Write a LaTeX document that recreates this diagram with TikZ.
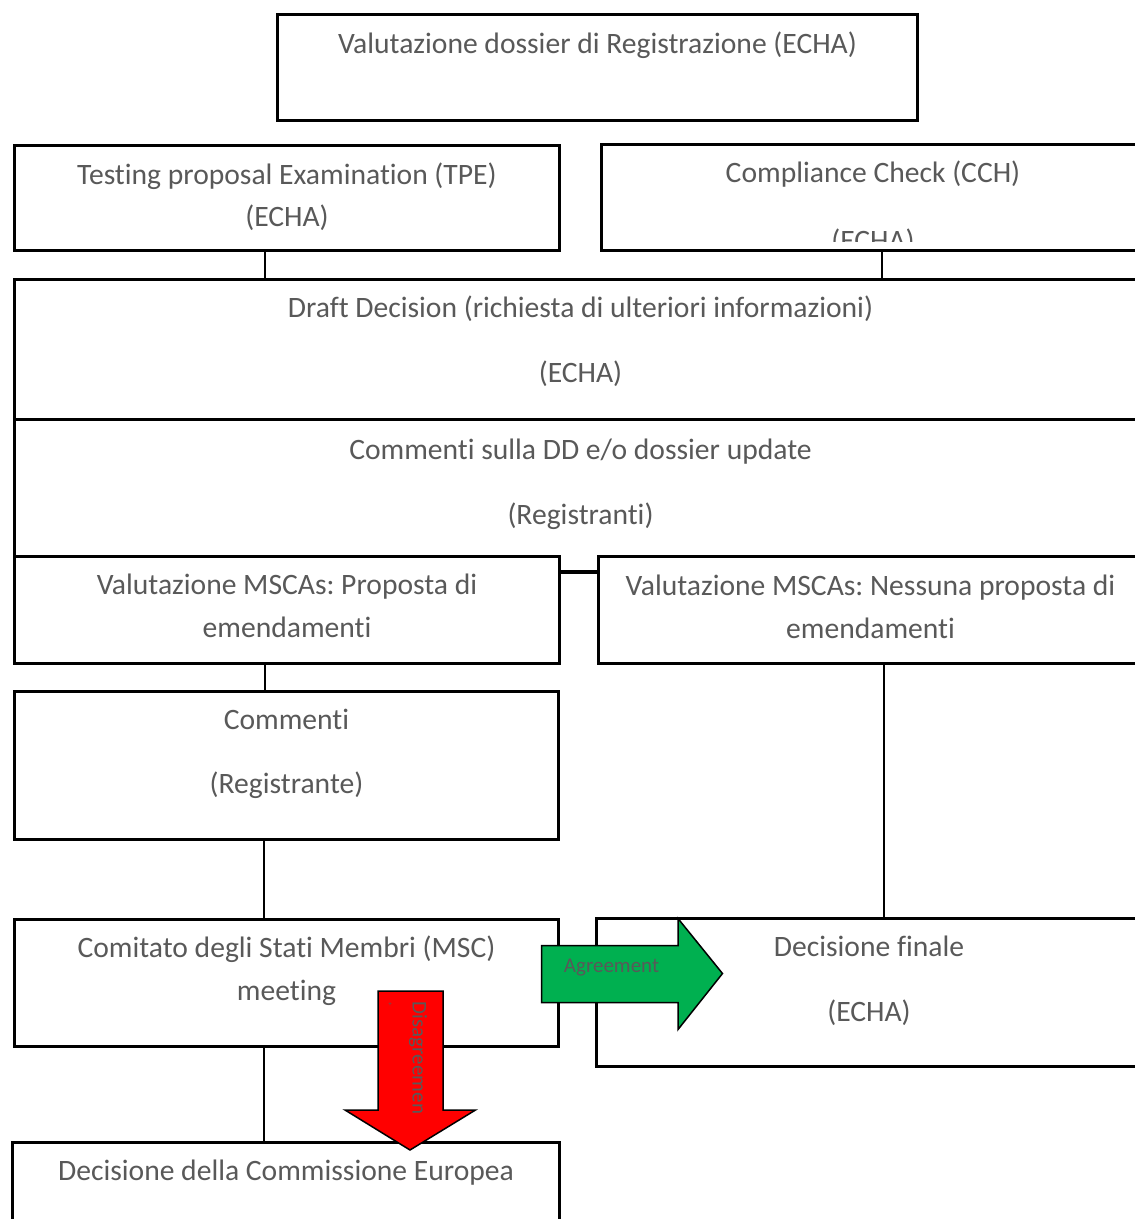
\documentclass[tikz,border=0pt]{standalone}
\usepackage{fontspec}
\setmainfont[Ligatures=NoCommon]{Carlito}
\definecolor{textgray}{HTML}{595959}
\definecolor{arrowgreen}{HTML}{00B050}
\definecolor{arrowred}{HTML}{FF0000}
\frenchspacing
\begin{document}
\begin{tikzpicture}[x=1pt,y=-1pt,
  box/.style={draw=black, line width=3.5pt, fill=white, inner sep=0pt, rectangle},
  conn/.style={draw=black, line width=1.5pt},
  txt/.style={text=textgray, font=\fontsize{29.6}{35}\selectfont, inner sep=0pt, anchor=base},
  small/.style={text=textgray, font=\fontsize{21}{25}\selectfont, inner sep=0pt},
  bigarrow/.style={draw=black, line width=1.5pt, line join=miter}]
\path[use as bounding box, clip] (0,0) rectangle (1135,1219);
\fill[white] (0,0) rectangle (1135,1219);
% x positions of connectors
\coordinate (xa) at (265,0);
\coordinate (xb) at (882,0);
\coordinate (xc) at (264,0);
\coordinate (xd) at (884,0);
% boxes
\node[box, minimum width=640pt, minimum height=106pt] (b1) at (597.5,67.5) {};
\node[box, minimum width=545pt, minimum height=105pt] (tpe) at (287,198) {};
\node[box, minimum width=543.5pt, minimum height=106pt] (cch) at (873.25,197.5) {};
\node[box, minimum width=1132.5pt, minimum height=140pt] (dd) at (580.75,349.5) {};
\node[box, minimum width=1132.5pt, minimum height=152.5pt] (cm) at (580.75,495.75) {};
\node[box, minimum width=545pt, minimum height=107pt] (msp) at (287,610) {};
\node[box, minimum width=546.5pt, minimum height=107pt] (msn) at (871.75,610) {};
\node[box, minimum width=544pt, minimum height=148pt] (com) at (286.5,765.5) {};
\node[box, minimum width=544pt, minimum height=127pt] (msc) at (286.5,983) {};
\node[box, minimum width=546.5pt, minimum height=148pt] (df) at (869.75,992.5) {};
\node[box, minimum width=547pt, minimum height=102.5pt] (dce) at (286,1193.75) {};
% connectors
\draw[conn] (tpe.south -| xa) -- (dd.north -| xa);
\draw[conn] (cch.south -| xb) -- (dd.north -| xb);
\draw[conn] (msp.south -| xa) -- (com.north -| xa);
\draw[conn] (com.south -| xc) -- (msc.north -| xc);
\draw[conn] (msn.south -| xd) -- (df.north -| xd);
\draw[conn] (msc.south -| xc) -- (dce.north -| xc);
% texts
\node[txt] (t1) at (597.5,53) {Valutazione dossier di Registrazione (ECHA)};
\node[txt] (t2a) at (287,184) {Testing proposal Examination (TPE)};
\node[txt] (t2b) at (287,226) {(ECHA)};
\node[txt] (t3a) at (873,182) {Compliance Check (CCH)};
\begin{scope}
\clip (603,146) rectangle (1140,241);
\node[txt] (t3b) at (873,250) {(ECHA)};
\end{scope}
\node[txt] (t4a) at (580.5,317) {Draft Decision (richiesta di ulteriori informazioni)};
\node[txt] (t4b) at (580.5,382) {(ECHA)};
\node[txt] (t5a) at (580.5,459) {Commenti sulla DD e/o dossier update};
\node[txt] (t5b) at (580.5,524) {(Registranti)};
\node[txt] (t6a) at (287,594) {Valutazione MSCAs: Proposta di};
\node[txt] (t6b) at (287,637) {emendamenti};
\node[txt] (t7a) at (870.5,595) {Valutazione MSCAs: Nessuna proposta di};
\node[txt] (t7b) at (870.5,638) {emendamenti};
\node[txt] (t8a) at (286.5,729) {Commenti};
\node[txt] (t8b) at (286.5,793) {(Registrante)};
\node[txt] (t9a) at (286.5,957) {Comitato degli Stati Membri (MSC)};
\node[txt] (t9b) at (286.5,1000) {meeting};
\node[txt] (t10a) at (869,956) {Decisione finale};
\node[txt] (t10b) at (869,1021) {(ECHA)};
\node[txt] (t11) at (286,1180) {Decisione della Commissione Europea};
% green arrow
\draw[bigarrow, fill=arrowgreen] (541.5,945.5) -- (678,945.5) -- (678,918.5) -- (722.5,973.5) -- (678,1029.5) -- (678,1002.5) -- (541.5,1002.5) -- cycle;
\node[small, anchor=base] (agr) at (611.5,972) {Agreement};
% red arrow
\draw[bigarrow, fill=arrowred] (378,991) -- (443,991) -- (443,1110) -- (475.5,1110) -- (410,1150) -- (345,1110) -- (378,1110) -- cycle;
\node[small, rotate=-90] (dis) at (418,1058) {Disagreemen};
\node[text=textgray, font=\fontsize{7}{8}\selectfont, inner sep=0pt] (plus) at (390,1005) {+};
\end{tikzpicture}
\end{document}
